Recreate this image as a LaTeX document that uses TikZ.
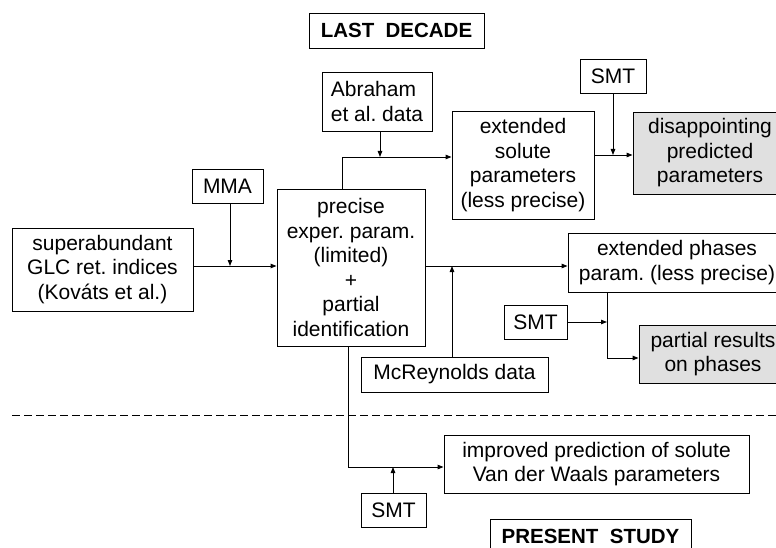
\documentclass[tikz,border=0pt]{standalone}
\usepackage{fontspec}
\setmainfont{Liberation Sans}
\usetikzlibrary{arrows.meta}
\frenchspacing
\tikzset{
  box/.style={draw=black, line width=0.9pt, rectangle, inner sep=0pt, align=center, font=\fontsize{21}{24.5}\selectfont},
  grey/.style={fill=black!12},
  bold/.style={font=\fontsize{20.5}{24}\selectfont\bfseries},
  conn/.style={draw=black, line width=0.9pt},
  arr/.style={conn, -{Triangle[length=6pt,width=4.5pt]}},
}
\begin{document}
\begin{tikzpicture}[x=1pt,y=-1pt]
\useasboundingbox (0,0) rectangle (776,548);
\node[box,bold,minimum width=175pt,minimum height=35pt] (ld) at (396.5,30.5) {LAST\ \ DECADE};
\node[box,minimum width=110pt,minimum height=59pt,align=left] (abr) at (377,101.5) {Abraham\\et al. data};
\node[box,minimum width=71pt,minimum height=34pt] (mma) at (227.5,186) {MMA};
\node[box,minimum width=181pt,minimum height=83pt] (sup) at (102.5,269.5) {superabundant\\GLC ret. indices\\(Kováts et al.)};
\node[box,minimum width=148pt,minimum height=157pt] (pre) at (351,267.5) {precise\\exper. param.\\(limited)\\+\\partial\\identification};
\node[box,minimum width=142pt,minimum height=108pt] (ext) at (523,165) {extended\\solute\\parameters\\(less precise)};
\node[box,minimum width=66pt,minimum height=34pt] (smta) at (613,76) {SMT};
\node[box,grey,minimum width=154pt,minimum height=82pt] (dis) at (710,153) {disappointing\\predicted\\parameters};
\node[box,minimum width=218pt,minimum height=59pt] (eph) at (677,262.5) {extended phases\\param. (less precise)};
\node[box,minimum width=63pt,minimum height=34pt] (smtb) at (535.5,322) {SMT};
\node[box,grey,minimum width=148pt,minimum height=58pt] (par) at (713,354) {partial results\\on phases};
\node[box,minimum width=187pt,minimum height=35pt] (mcr) at (454.5,374.5) {McReynolds data};
\node[box,minimum width=305pt,minimum height=58pt] (imp) at (596.5,464) {improved prediction of solute\\Van der Waals parameters};
\node[box,minimum width=65pt,minimum height=34pt] (smtc) at (393.5,510) {SMT};
\node[box,bold,minimum width=201pt,minimum height=35pt] (ps) at (590.5,536.5) {PRESENT\ \ STUDY};

% junction coordinates
\coordinate (j1) at (230,266);
\coordinate (j2a) at (342,157);
\coordinate (j2) at (380,157);
\coordinate (j3) at (613,155);
\coordinate (j4) at (452,266);
\coordinate (j5a) at (607,358);
\coordinate (j5) at (607,322);
\coordinate (j6a) at (348,467);
\coordinate (j6) at (393,467);

% connectors
\draw[arr] (sup.east |- j1) -- (pre.west |- j1);
\draw[arr] (mma.south -| j1) -- (j1);
\draw[arr] (pre.north -| j2a) -- (j2a) -- (ext.west |- j2a);
\draw[arr] (abr.south -| j2) -- (j2);
\draw[arr] (ext.east |- j3) -- (dis.west |- j3);
\draw[arr] (smta.south) -- (j3);
\draw[arr] (pre.east |- j4) -- (eph.west |- j4);
\draw[arr] (mcr.north -| j4) -- (j4);
\draw[arr] (eph.south -| j5a) -- (j5a) -- (par.west |- j5a);
\draw[arr] (smtb.east |- j5) -- (j5);
\draw[arr] (pre.south -| j6a) -- (j6a) -- (imp.west |- j6a);
\draw[arr] (smtc.north -| j6) -- (j6);

% dashed separator
\coordinate (dl) at (12,415);
\coordinate (dr) at (776,415);
\draw[conn, line width=0.8pt, dash pattern=on 8pt off 4pt] (dl) -- (dr);
\end{tikzpicture}
\end{document}
